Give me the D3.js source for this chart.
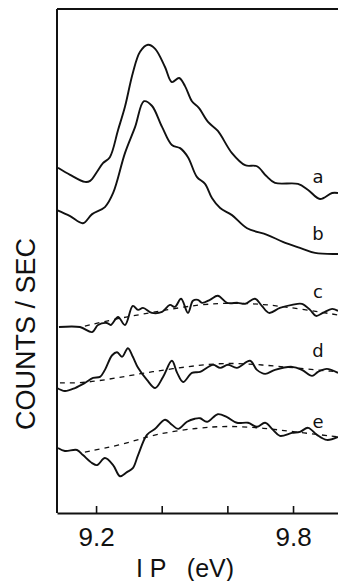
<!DOCTYPE html>
<html>
<head>
<meta charset="utf-8">
<script src="https://cdn.jsdelivr.net/npm/d3@7"></script>
<style>
  html, body { margin: 0; padding: 0; background: #fff; }
  svg { display: block; }
</style>
</head>
<body>
<div id="chart"></div>
<script>
// IP (eV) and counts (arbitrary units, offset per trace)
const curveA = [
  [9.084, 68.5], [9.121, 67.1], [9.166, 65.7], [9.182, 65.9], [9.203, 67.7], [9.221, 69.4],
  [9.242, 70.6], [9.267, 76.0], [9.288, 80.6], [9.312, 87.3], [9.334, 91.5], [9.358, 92.9],
  [9.380, 92.1], [9.410, 88.5], [9.431, 85.5], [9.453, 86.3], [9.471, 84.7], [9.492, 81.7],
  [9.513, 80.4], [9.541, 77.6], [9.571, 75.8], [9.614, 71.4], [9.654, 69.0], [9.690, 68.8],
  [9.718, 66.9], [9.745, 65.5], [9.815, 65.3], [9.846, 64.1], [9.882, 62.3], [9.919, 63.5],
  [9.937, 63.5]
];
const curveB = [
  [9.081, 60.1], [9.121, 58.9], [9.160, 57.5], [9.188, 59.3], [9.227, 60.7], [9.252, 63.5],
  [9.288, 71.4], [9.319, 76.6], [9.346, 81.7], [9.370, 80.8], [9.401, 76.6], [9.431, 73.0],
  [9.456, 72.4], [9.480, 70.6], [9.507, 66.7], [9.532, 65.3], [9.553, 62.5], [9.578, 60.5],
  [9.614, 59.1], [9.660, 56.5], [9.721, 55.2], [9.769, 53.8], [9.821, 52.6], [9.867, 51.6],
  [9.937, 51.4]
];
const curveC = [
  [9.087, 36.9], [9.151, 36.9], [9.188, 35.9], [9.206, 37.3], [9.233, 37.7], [9.245, 37.3],
  [9.267, 38.9], [9.288, 37.3], [9.312, 41.1], [9.328, 40.3], [9.343, 40.7], [9.370, 39.7],
  [9.401, 39.9], [9.425, 41.3], [9.440, 40.9], [9.459, 42.5], [9.480, 39.7], [9.495, 42.1],
  [9.510, 42.3], [9.523, 41.7], [9.547, 42.3], [9.571, 43.1], [9.599, 41.7], [9.632, 41.7],
  [9.654, 41.5], [9.684, 42.5], [9.705, 41.1], [9.727, 39.7], [9.760, 40.7], [9.797, 41.3],
  [9.827, 41.5], [9.852, 40.3], [9.870, 39.1], [9.891, 39.7], [9.919, 40.5], [9.937, 40.1]
];
const fitC = [
  [9.166, 37.1], [9.273, 38.7], [9.364, 39.7], [9.517, 41.5], [9.638, 41.7], [9.730, 41.3],
  [9.821, 40.5], [9.937, 39.3]
];
const curveD = [
  [9.081, 24.8], [9.105, 24.2], [9.136, 24.8], [9.166, 25.8], [9.191, 26.8], [9.212, 27.0],
  [9.227, 28.4], [9.249, 31.3], [9.264, 31.9], [9.279, 31.0], [9.297, 32.7], [9.312, 31.0],
  [9.328, 28.8], [9.355, 26.4], [9.380, 24.8], [9.404, 27.0], [9.431, 30.2], [9.447, 27.8],
  [9.465, 26.0], [9.492, 27.8], [9.517, 28.0], [9.556, 29.4], [9.578, 28.8], [9.602, 29.4],
  [9.629, 28.8], [9.669, 30.2], [9.690, 28.4], [9.715, 27.6], [9.745, 28.4], [9.797, 29.0],
  [9.827, 28.4], [9.858, 27.2], [9.876, 28.0], [9.903, 28.6], [9.937, 27.8]
];
const fitD = [
  [9.090, 25.8], [9.166, 25.8], [9.264, 26.8], [9.364, 28.0], [9.517, 29.4], [9.608, 29.8],
  [9.705, 29.4], [9.806, 28.8], [9.937, 28.0]
];
const curveE = [
  [9.084, 12.9], [9.105, 12.3], [9.142, 12.5], [9.160, 11.5], [9.188, 9.9], [9.203, 9.5],
  [9.227, 10.9], [9.252, 9.5], [9.273, 7.3], [9.294, 8.1], [9.312, 8.9], [9.328, 11.5],
  [9.355, 15.5], [9.380, 16.7], [9.410, 18.5], [9.431, 17.5], [9.450, 16.7], [9.477, 18.1],
  [9.501, 18.7], [9.517, 18.8], [9.538, 18.1], [9.571, 19.6], [9.599, 19.0], [9.629, 17.9],
  [9.663, 17.9], [9.690, 17.1], [9.715, 17.9], [9.739, 16.5], [9.760, 15.3], [9.797, 15.9],
  [9.821, 16.1], [9.846, 16.9], [9.873, 15.5], [9.903, 14.5], [9.937, 15.1]
];
const fitE = [
  [9.166, 12.1], [9.279, 13.5], [9.380, 15.7], [9.510, 16.9], [9.602, 17.3], [9.705, 16.9],
  [9.806, 16.1], [9.937, 15.1]
];

const traceNames = ['a', 'b', 'c', 'd', 'e'];
const traceLabelAt = [[9.876, 65.5], [9.876, 54.2], [9.876, 42.7], [9.876, 31.0], [9.876, 16.9]];
const tickValues = [9.2, 9.4, 9.6, 9.8];
const tickLabels = ['9.2', '', '', '9.8'];
const xTitle = 'I P   (eV)';
const yTitle = 'COUNTS / SEC';

const width = 338, height = 581;
const margin = { top: 9, right: 0, bottom: 68, left: 57 };

const svg = d3.select('#chart').append('svg')
  .attr('width', width)
  .attr('height', height);

const x = d3.scaleLinear()
  .domain([9.081, 9.937])
  .range([margin.left, width - margin.right]);

const y = d3.scaleLinear()
  .domain([0, 100])
  .range([height - margin.bottom, margin.top]);

const font = '"Liberation Sans", Arial, Helvetica, sans-serif';

// frame: top and left
svg.append('line')
  .attr('x1', x.range()[0]).attr('x2', x.range()[1])
  .attr('y1', margin.top).attr('y2', margin.top)
  .attr('stroke', '#111').attr('stroke-width', 2);
svg.append('line')
  .attr('x1', margin.left).attr('x2', margin.left)
  .attr('y1', margin.top).attr('y2', height - margin.bottom)
  .attr('stroke', '#111').attr('stroke-width', 2);

// bottom axis, ticks pointing inwards
const xAxis = d3.axisBottom(x)
  .tickValues(tickValues)
  .tickFormat((d, i) => tickLabels[i])
  .tickSizeInner(-7)
  .tickSizeOuter(0)
  .tickPadding(15);

const gx = svg.append('g')
  .attr('transform', `translate(0,${height - margin.bottom})`)
  .call(xAxis);
gx.select('.domain').attr('stroke', '#111').attr('stroke-width', 2.2);
gx.selectAll('.tick line').attr('stroke', '#111').attr('stroke-width', 1.6);
gx.selectAll('.tick text')
  .attr('font-family', font)
  .attr('font-size', 26)
  .attr('fill', '#111');

// axis titles
svg.append('text')
  .attr('x', 185)
  .attr('y', 577)
  .attr('text-anchor', 'middle')
  .attr('xml:space', 'preserve')
  .attr('font-family', font)
  .attr('font-size', 25)
  .attr('fill', '#111')
  .style('white-space', 'pre')
  .text(xTitle);

svg.append('text')
  .attr('transform', 'translate(35,334) rotate(-90)')
  .attr('text-anchor', 'middle')
  .attr('font-family', font)
  .attr('font-size', 27)
  .attr('fill', '#111')
  .text(yTitle);

// traces
const line = d3.line()
  .x(d => x(d[0]))
  .y(d => y(d[1]))
  .curve(d3.curveCatmullRom.alpha(0.5));

const fitLine = d3.line()
  .x(d => x(d[0]))
  .y(d => y(d[1]))
  .curve(d3.curveBasis);

[fitC, fitD, fitE].forEach(f => {
  svg.append('path')
    .attr('d', fitLine(f))
    .attr('fill', 'none')
    .attr('stroke', '#111')
    .attr('stroke-width', 1.3)
    .attr('stroke-dasharray', '5,5');
});

[curveA, curveB, curveC, curveD, curveE].forEach(c => {
  svg.append('path')
    .attr('d', line(c))
    .attr('fill', 'none')
    .attr('stroke', '#111')
    .attr('stroke-width', 1.9)
    .attr('stroke-linejoin', 'round');
});

// trace letters
svg.selectAll('.trace-label')
  .data(traceNames)
  .enter()
  .append('text')
  .attr('class', 'trace-label')
  .attr('x', (d, i) => x(traceLabelAt[i][0]))
  .attr('y', (d, i) => y(traceLabelAt[i][1]))
  .attr('text-anchor', 'middle')
  .attr('font-family', '"DejaVu Sans", sans-serif')
  .attr('font-size', 18)
  .attr('fill', '#111')
  .text(d => d);
</script>
</body>
</html>
